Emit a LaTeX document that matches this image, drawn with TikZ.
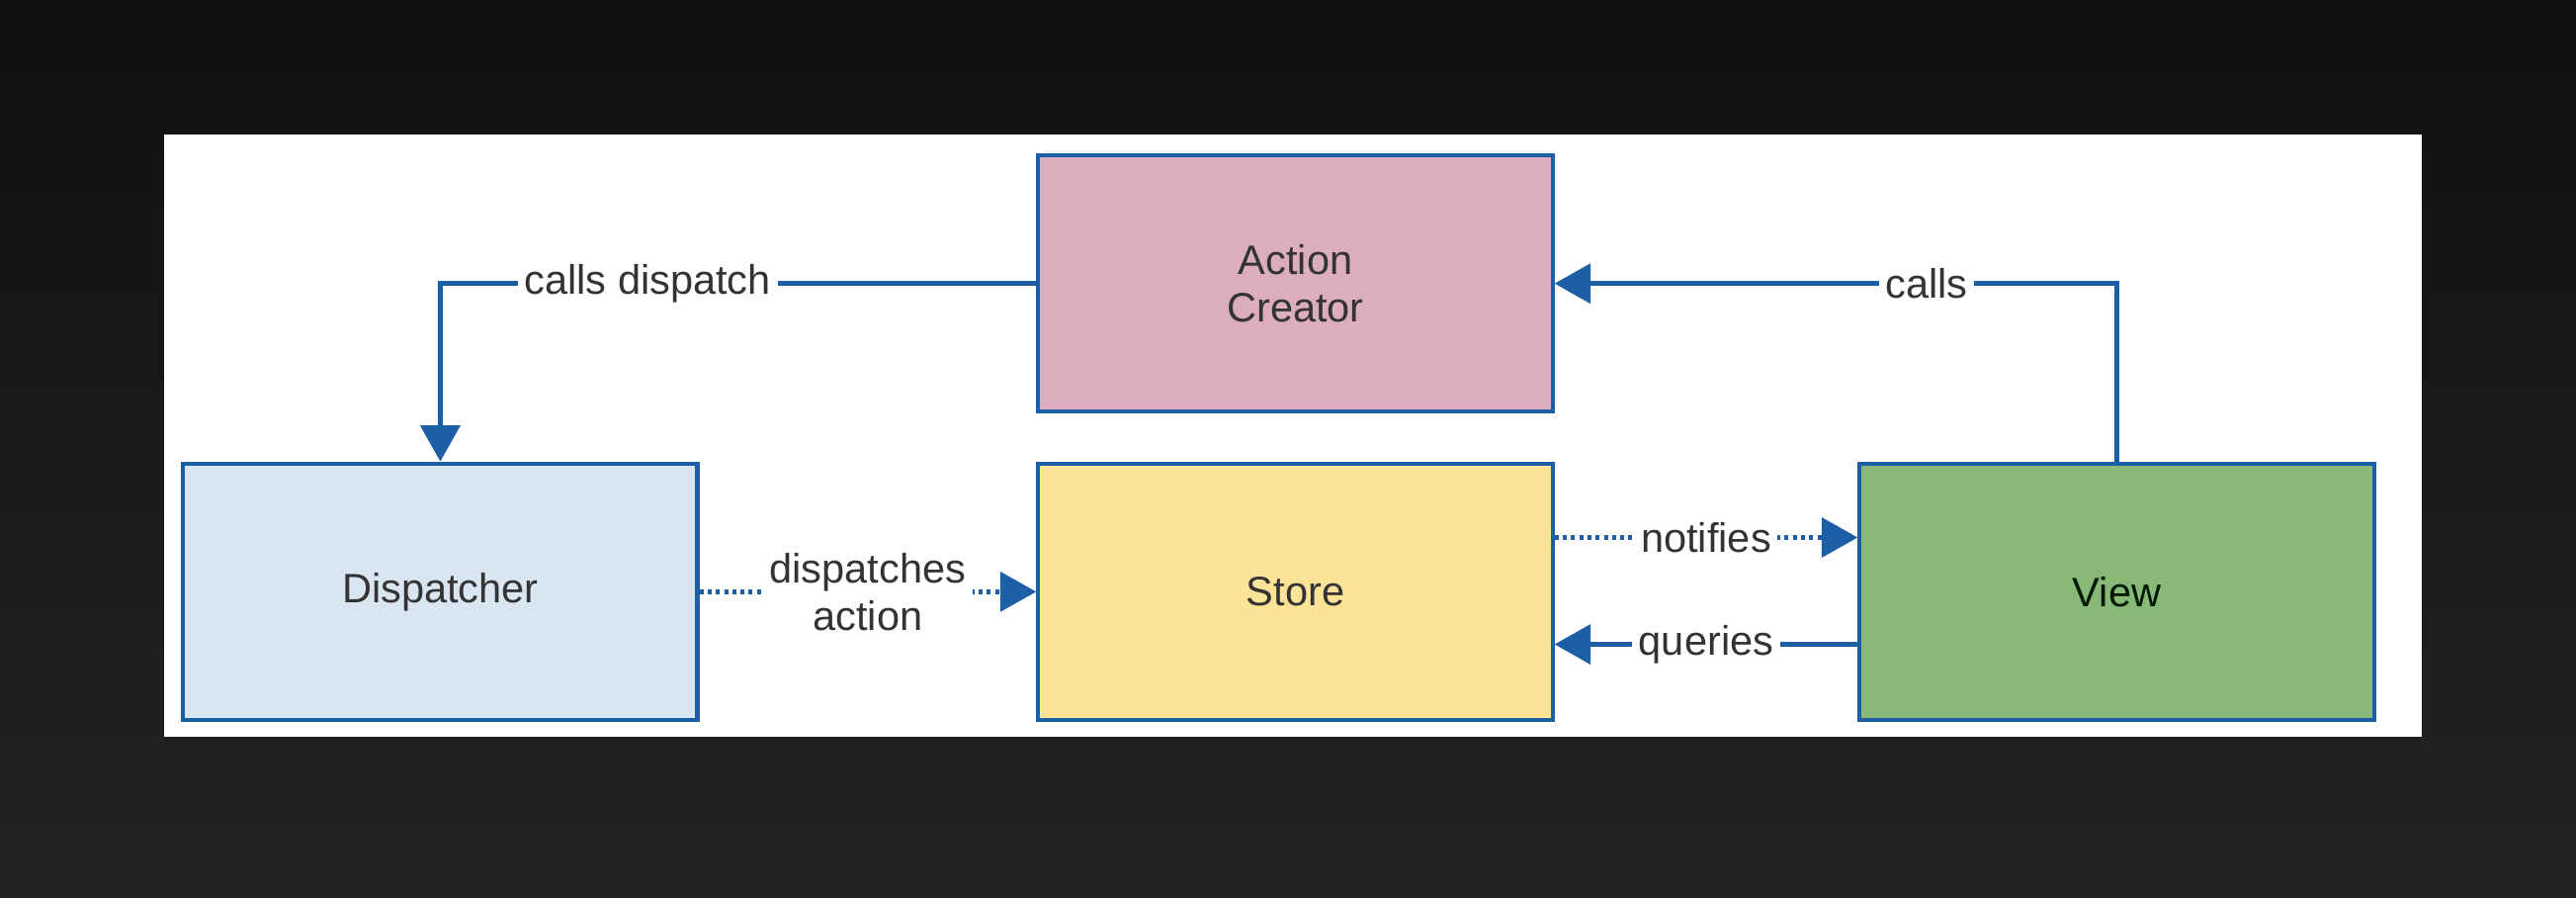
\documentclass[tikz,border=0pt]{standalone}
\usepackage{fontspec}
\setmainfont{Liberation Sans}
\usetikzlibrary{arrows.meta}
\definecolor{edge}{HTML}{1D5FA6}
\definecolor{txt}{HTML}{333333}
\definecolor{bgtop}{HTML}{101010}
\definecolor{bgbot}{HTML}{242424}
\definecolor{acfill}{HTML}{DBADBF}
\definecolor{dpfill}{HTML}{DAE5F2}
\definecolor{stfill}{HTML}{FDE397}
\definecolor{vwfill}{HTML}{88B978}

\begin{document}
\begin{tikzpicture}[x=1pt,y=-1pt,font=\fontsize{25}{29}\selectfont,
    box/.style={draw=edge,line width=2.5pt,minimum width=313pt,minimum height=156pt,inner sep=0pt,align=center,text=txt},
    link/.style={edge,line width=2.8pt,-{Triangle[length=22pt,width=24pt]}},
    dots/.style={dash pattern=on 2.4pt off 2.6pt},
    lbl/.style={fill=white,text=txt,inner sep=4pt,align=center}]
    \useasboundingbox (0,0) rectangle (1568,546);
    \shade[top color=bgtop,bottom color=bgbot] (0,0) rectangle (1568,546);
    \fill[white] (100,82) rectangle (1474,448);
    % boxes
    \node[box,fill=acfill] (ac) at (788.5,172.5) {Action\\Creator};
    \node[box,fill=dpfill] (disp) at (268,360) {Dispatcher};
    \node[box,fill=stfill] (store) at (788.5,360) {Store};
    \node[box,fill=vwfill,text=black!75!green!40!black] (view) at (1288.5,360) {View};
    % connectors
    \draw[link] (ac.west) -| node[lbl,pos=0.326] {calls dispatch} (disp.north);
    \draw[link] (view.north) |- node[lbl,pos=0.669] {calls} (ac.east);
    \draw[link,dots] (disp.east) -- node[lbl] {dispatches\\action} (store.west);
    \draw[link,dots] ([yshift=33pt]store.east) -- node[lbl] {notifies} ([yshift=33pt]view.west);
    \draw[link] ([yshift=-32pt]view.west) -- node[lbl] {queries} ([yshift=-32pt]store.east);
\end{tikzpicture}
\end{document}
